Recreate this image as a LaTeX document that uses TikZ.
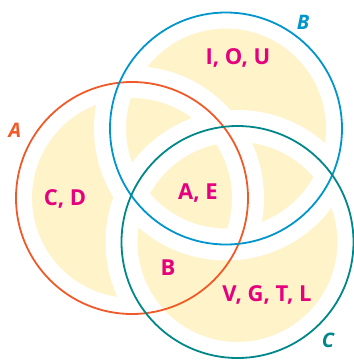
\documentclass[tikz,border=0pt]{standalone}
\usepackage{fontspec}
\setmainfont{Open Sans}
\definecolor{cA}{HTML}{F05A28}
\definecolor{cB}{HTML}{0096CC}
\definecolor{cC}{HTML}{00878A}
\definecolor{fillY}{HTML}{FFF3C9}
\definecolor{mag}{HTML}{E5007D}
\begin{document}
\begin{tikzpicture}[x=1pt,y=-1pt,
  ring/.style={line width=1.8pt},
  gap/.style={white,line width=32pt},
  elem/.style={text=mag,font=\fontsize{22}{22}\selectfont\bfseries,inner sep=0pt},
  setlab/.style={font=\fontsize{20}{20}\selectfont\itshape\bfseries,inner sep=0pt}]
\useasboundingbox (0,0) rectangle (354,360);
\coordinate (OA) at (132,198);
\coordinate (OB) at (226,128.5);
\coordinate (OC) at (237.5,242);
\def\R{116}
% yellow union
\fill[fillY] (OA) circle (\R) (OB) circle (\R) (OC) circle (\R);
% white band of A
\draw[gap] (OA) circle (\R);
% restore yellow in C outside B (A's arc there has no band)
\begin{scope}
  \clip (OC) circle (\R);
  \fill[fillY,even odd rule] (OC) circle (\R) (OB) circle (\R);
\end{scope}
% white bands of B and C
\draw[gap] (OB) circle (\R);
\draw[gap] (OC) circle (\R);
% outlines
\draw[ring,cA] (OA) circle (\R);
\draw[ring,cB] (OB) circle (\R);
\draw[ring,cC] (OC) circle (\R);
% set labels
\node[setlab,text=cA] (la) at (15,130) {A};
\node[setlab,text=cB] (lb) at (303,22) {B};
\node[setlab,text=cC] (lc) at (328,340) {C};
% elements
\node[elem] (iou) at (238,58) {I, O, U};
\node[elem] (cd) at (65,199) {C, D};
\node[elem] (ae) at (198,193) {A, E};
\node[elem] (b) at (168,268) {B};
\node[elem] (vgtl) at (267,295) {V, G, T, L};
\end{tikzpicture}
\end{document}
